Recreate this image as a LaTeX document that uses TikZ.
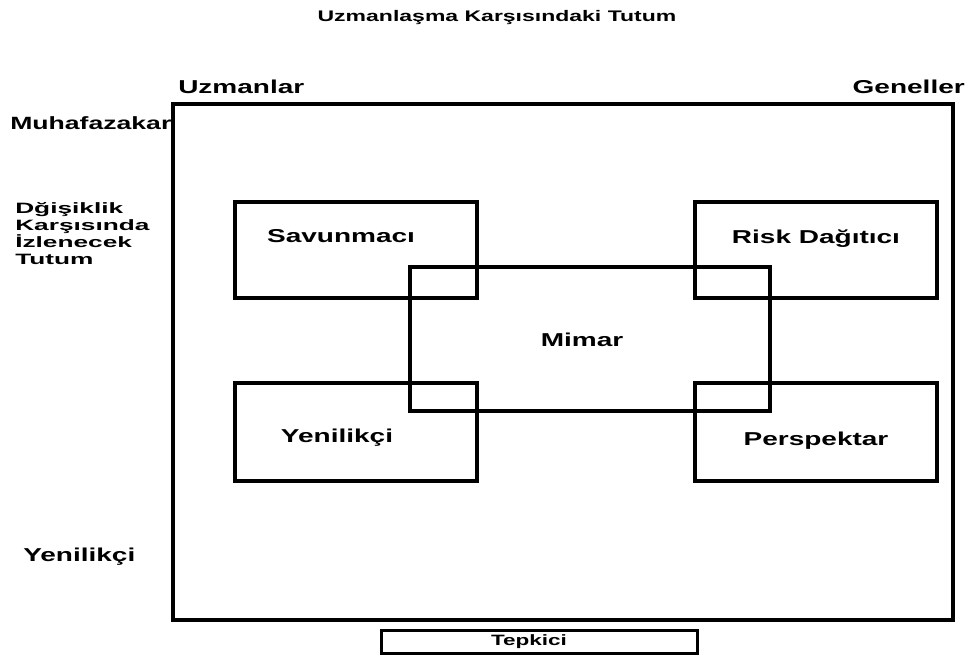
\documentclass[tikz,border=0pt]{standalone}
\usepackage{fontspec}
\newfontfamily\lblfont{Liberation Sans}[FakeStretch=1.5]
\newfontfamily\sidefont{Liberation Sans}[FakeStretch=1.75]
\usetikzlibrary{fit}
\tikzset{
  box/.style={draw,line width=3pt,inner sep=0pt},
  tbox/.style={draw,line width=2.25pt,inner sep=0pt},
  lbl/.style={inner sep=0pt,font=\lblfont\bfseries\fontsize{14}{16}\selectfont},
  ttl/.style={inner sep=0pt,font=\lblfont\bfseries\fontsize{11.5}{13}\selectfont},
  side/.style={inner sep=0pt,align=left,font=\sidefont\bfseries\fontsize{11.25}{12.75}\selectfont},
  small/.style={inner sep=0pt,font=\lblfont\bfseries\fontsize{11.25}{13}\selectfont}
}
\begin{document}
\begin{tikzpicture}[x=0.75pt,y=-0.75pt]
\useasboundingbox (0,0) rectangle (970,661);
\node[ttl] (title) at (497,18) {Uzmanlaşma Karşısındaki Tutum};
\node[lbl,anchor=west] (uzm) at (178,87) {Uzmanlar};
\node[lbl,anchor=east] (gen) at (965,87) {Geneller};
\node[lbl,anchor=west,font=\lblfont\bfseries\fontsize{13.3}{16}\selectfont] (muh) at (10,123) {Muhafazakar};
\node[side,anchor=north west] (deg) at (15,202) {Dğişiklik\\Karşısında\\İzlenecek\\Tutum};
\node[lbl,anchor=west] (yenl) at (23,557) {Yenilikçi};
% cerceve
\node[box,fit={(173,104) (953,620)}] (frame) {};
\node[tbox,fit={(381,630) (697,653)}] (tep) {};
\node[small] (tept) at (529,642) {Tepkici};
% kutular
\node[box,fit={(235,202) (477,298)}] (sav) {};
\node[box,fit={(695,202) (937,298)}] (risk) {};
\node[box,fit={(410,267) (770,411)}] (mim) {};
\node[box,fit={(235,383) (477,481)}] (yen) {};
\node[box,fit={(695,383) (937,481)}] (per) {};
\node[lbl] (savt) at (341,236) {Savunmacı};
\node[lbl] (riskt) at (816,239) {Risk Dağıtıcı};
\node[lbl] (mimt) at (582,340) {Mimar};
\node[lbl] (yent) at (337,438) {Yenilikçi};
\node[lbl] (pert) at (816,441) {Perspektar};
\end{tikzpicture}
\end{document}
